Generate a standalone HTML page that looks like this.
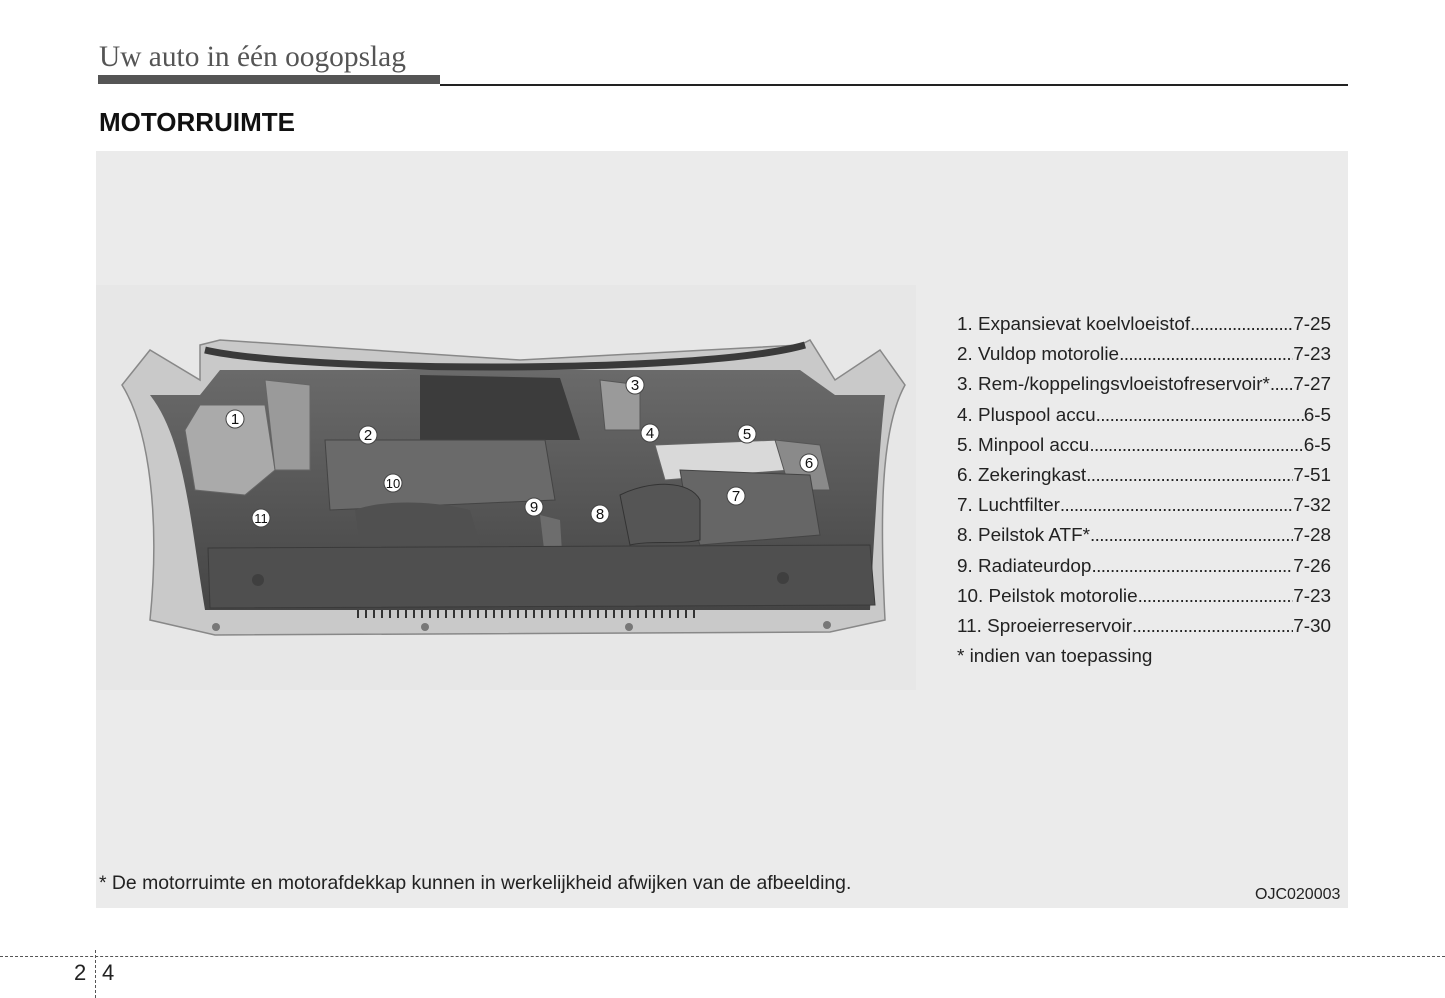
<!DOCTYPE html>
<html><head><meta charset="utf-8"><style>
body{margin:0;width:1445px;height:998px;background:#fff;position:relative;overflow:hidden;font-family:"Liberation Sans",Arial,sans-serif}
.hdr{position:absolute;left:99px;top:41px;font-family:"Liberation Serif",serif;font-size:29.4px;color:#555}
.bar{position:absolute;left:98px;top:75px;width:342px;height:9px;background:#555}
.line{position:absolute;left:440px;top:84px;width:908px;height:2px;background:#222}
h1{position:absolute;left:99px;top:107px;margin:0;font-size:26px;font-weight:bold;color:#111}
.panel{position:absolute;left:96px;top:151px;width:1252px;height:757px;background:#ebebeb}
.list{position:absolute;left:957px;top:312px;width:374px;font-size:18.9px;color:#222}
.row{display:flex;height:30.2px;line-height:26px;white-space:nowrap}
.row .d{flex:1;overflow:hidden;letter-spacing:-0.6px}
.row .d:before{content:"......................................................................................................................................"}
.note{position:absolute;left:99px;top:872px;font-size:19.4px;color:#222;white-space:nowrap}
.code{position:absolute;left:1255px;top:886px;font-size:16px;color:#222}
.dash{position:absolute;left:0;top:956px;width:1445px;border-top:1.5px dashed #555}
.vd{position:absolute;left:95px;top:950px;height:48px;border-left:1.5px dashed #555}
.pn{position:absolute;top:960px;font-size:22px;color:#222}
</style></head><body>
<div class="hdr">Uw auto in één oogopslag</div>
<div class="bar"></div><div class="line"></div>
<h1>MOTORRUIMTE</h1>
<div class="panel"></div>
<svg style="position:absolute;left:0;top:0" width="1445" height="998">
<defs><linearGradient id="g" x1="0" y1="0" x2="0" y2="1"><stop offset="0" stop-color="#6a6a6a"/><stop offset="1" stop-color="#454545"/></linearGradient></defs>
<rect x="96" y="285" width="820" height="405" fill="#e7e7e7"/>
<path d="M122,385 L150,350 L200,380 L200,345 L220,340 L520,360 L800,345 L810,340 L835,380 L880,350 L905,385 C880,430 880,520 885,620 L830,632 L215,635 L150,620 C160,520 150,430 122,385Z" fill="#c9c9c9" stroke="#888" stroke-width="1.5"/>
<path d="M150,395 C185,440 190,520 205,610 L870,610 C875,520 880,440 885,395 L835,395 L800,370 L220,370 L200,395Z" fill="url(#g)"/>
<path d="M205,350 C300,372 700,375 805,345" stroke="#3a3a3a" stroke-width="7" fill="none"/>
<path d="M420,375 L560,378 L580,440 L420,440Z" fill="#3c3c3c"/>
<path d="M185,430 L200,405 L265,405 L275,470 L245,495 L195,490Z" fill="#aaa" stroke="#666"/>
<path d="M265,380 L310,385 L310,470 L275,470Z" fill="#9a9a9a" stroke="#666"/>
<path d="M325,440 L545,440 L555,500 L330,510Z" fill="#6a6a6a" stroke="#444"/>
<path d="M600,380 L640,385 L640,430 L605,430Z" fill="#9a9a9a" stroke="#555"/>
<path d="M655,445 L780,440 L790,470 L665,480Z" fill="#d9d9d9" stroke="#666"/>
<path d="M775,440 L820,445 L830,490 L790,490Z" fill="#8a8a8a" stroke="#555"/>
<path d="M680,470 L810,475 L820,535 L700,545 L685,500Z" fill="#666" stroke="#444"/>
<path d="M620,495 C650,480 690,480 700,500 L700,540 C680,545 650,540 630,545Z" fill="#555" stroke="#333"/>
<path d="M355,510 C380,500 430,500 470,510 L480,545 L360,545Z" fill="#505050"/>
<path d="M540,515 L560,520 L565,600 L550,600Z" fill="#6d6d6d"/>
<path d="M208,548 L870,545 L875,605 L210,608Z" fill="#4f4f4f" stroke="#3a3a3a"/>
<circle cx="258" cy="580" r="6" fill="#3f3f3f"/><circle cx="783" cy="578" r="6" fill="#3f3f3f"/>
<g stroke="#333" stroke-width="2">
<path d="M358,610v8M366,610v8M374,610v8M382,610v8M390,610v8M398,610v8M406,610v8M414,610v8M422,610v8M430,610v8M438,610v8M446,610v8M454,610v8M462,610v8M470,610v8M478,610v8M486,610v8M494,610v8M502,610v8M510,610v8M518,610v8M526,610v8M534,610v8M542,610v8M550,610v8M558,610v8M566,610v8M574,610v8M582,610v8M590,610v8M598,610v8M606,610v8M614,610v8M622,610v8M630,610v8M638,610v8M646,610v8M654,610v8M662,610v8M670,610v8M678,610v8M686,610v8M694,610v8"/>
</g>
<g fill="#777"><circle cx="216" cy="627" r="4"/><circle cx="425" cy="627" r="4"/><circle cx="629" cy="627" r="4"/><circle cx="827" cy="625" r="4"/></g>
<g font-family="Liberation Sans,sans-serif" font-size="15" text-anchor="middle" fill="#111">
<g fill="#fff" stroke="#444"><circle cx="235" cy="419" r="9"/><circle cx="368" cy="435" r="9"/><circle cx="635" cy="385" r="9"/><circle cx="650" cy="433" r="9"/><circle cx="747" cy="434" r="9"/><circle cx="809" cy="463" r="9"/><circle cx="736" cy="496" r="9"/><circle cx="600" cy="514" r="9"/><circle cx="534" cy="507" r="9"/><circle cx="393" cy="483" r="9"/><circle cx="261" cy="518" r="9"/></g>
<text x="235" y="424">1</text><text x="368" y="440">2</text><text x="635" y="390">3</text><text x="650" y="438">4</text><text x="747" y="439">5</text><text x="809" y="468">6</text><text x="736" y="501">7</text><text x="600" y="519">8</text><text x="534" y="512">9</text><text x="393" y="488" font-size="13">10</text><text x="261" y="523" font-size="13">11</text>
</g>
</svg>
<div class="list">
<div class="row"><span>1. Expansievat koelvloeistof</span><span class="d"></span><span>7-25</span></div>
<div class="row"><span>2. Vuldop motorolie </span><span class="d"></span><span>7-23</span></div>
<div class="row"><span>3. Rem-/koppelingsvloeistofreservoir* </span><span class="d"></span><span>7-27</span></div>
<div class="row"><span>4. Pluspool accu </span><span class="d"></span><span>6-5</span></div>
<div class="row"><span>5. Minpool accu</span><span class="d"></span><span>6-5</span></div>
<div class="row"><span>6. Zekeringkast </span><span class="d"></span><span>7-51</span></div>
<div class="row"><span>7. Luchtfilter </span><span class="d"></span><span>7-32</span></div>
<div class="row"><span>8. Peilstok ATF* </span><span class="d"></span><span>7-28</span></div>
<div class="row"><span>9. Radiateurdop </span><span class="d"></span><span>7-26</span></div>
<div class="row"><span>10. Peilstok motorolie</span><span class="d"></span><span>7-23</span></div>
<div class="row"><span>11. Sproeierreservoir </span><span class="d"></span><span>7-30</span></div>
<div class="row"><span>* indien van toepassing</span></div>
</div>
<div class="note">* De motorruimte en motorafdekkap kunnen in werkelijkheid afwijken van de afbeelding.</div>
<div class="code">OJC020003</div>
<div class="dash"></div><div class="vd"></div>
<div class="pn" style="left:74px">2</div><div class="pn" style="left:102px">4</div>
</body></html>
